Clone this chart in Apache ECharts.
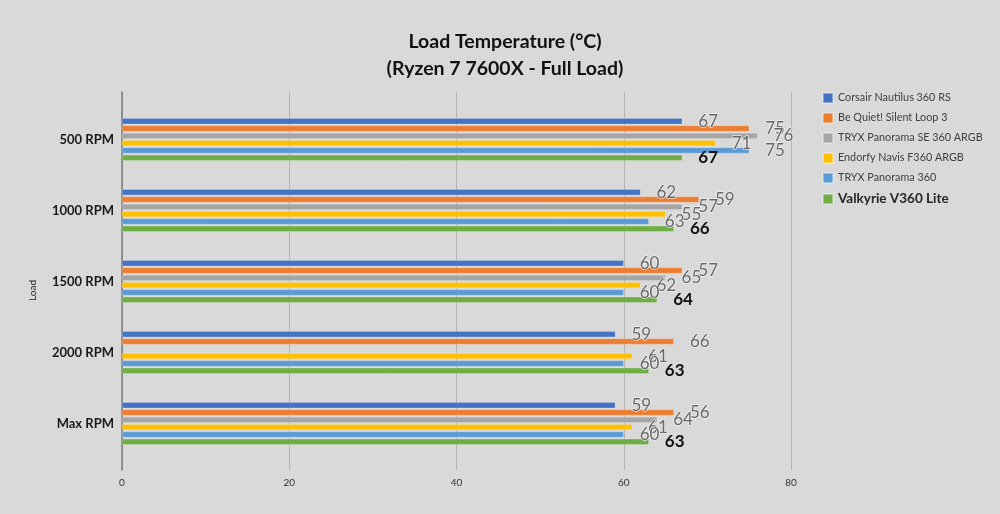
<!DOCTYPE html>
<html>
<head>
<meta charset="utf-8">
<script src="https://cdn.jsdelivr.net/npm/echarts@6/dist/echarts.min.js"></script>
<style>
  html, body { margin: 0; padding: 0; background: #d9d9d9; }
  #main { width: 1000px; height: 514px; }
</style>
</head>
<body>
<div id="main"></div>
<script>
// categories, top to bottom
var categories = ['500 RPM', '1000 RPM', '1500 RPM', '2000 RPM', 'Max RPM'];

var coolers = ['Corsair Nautilus 360 RS', 'Be Quiet! Silent Loop 3', 'TRYX Panorama SE 360 ARGB',
               'Endorfy Navis F360 ARGB', 'TRYX Panorama 360', 'Valkyrie V360 Lite'];
var colors = ['#4472c4', '#ed7d31', '#a5a5a5', '#ffc000', '#5b9bd5', '#70ad47'];

// bar lengths
var corsair   = [67, 62, 60, 59, 59];
var bequiet   = [75, 69, 67, 66, 66];
var tryxSE    = [76, 67, 65, null, 64];
var endorfy   = [71, 65, 62, 61, 61];
var tryx      = [75, 63, 60, 60, 60];
var valkyrie  = [67, 66, 64, 63, 63];

// the numbers printed next to the bars (they don't always match the bars)
var corsairLbl  = [67, 62, 60, 59, 59];
var bequietLbl  = [75, 59, 57, 66, 56];
var tryxSELbl   = [76, 57, 65, null, 64];
var endorfyLbl  = [71, 55, 62, 61, 61];
var tryxLbl     = [75, 63, 60, 60, 60];
var valkyrieLbl = [67, 66, 64, 63, 63];

var values = [corsair, bequiet, tryxSE, endorfy, tryx, valkyrie];
var labels = [corsairLbl, bequietLbl, tryxSELbl, endorfyLbl, tryxLbl, valkyrieLbl];

var font = 'Lato, "Liberation Sans", sans-serif';

var myChart = echarts.init(document.getElementById('main'));

var series = values.map(function (vals, i) {
  var last = i === values.length - 1;
  return {
    name: coolers[i],
    type: 'bar',
    xAxisIndex: 1,
    yAxisIndex: 1,
    data: vals,
    barWidth: 6,
    barGap: '22%',
    itemStyle: { color: colors[i], borderColor: 'rgba(255,255,255,0.35)', borderWidth: 0.6 },
    label: {
      show: true,
      position: 'right',
      distance: 16,
      fontFamily: font,
      fontSize: 17,
      fontWeight: last ? 'bold' : 'normal',
      color: last ? '#111' : '#666',
      textBorderColor: last ? 'transparent' : 'rgba(245,245,245,0.8)',
      textBorderWidth: last ? 0 : 1.5,
      formatter: function (p) {
        var v = labels[i][p.dataIndex];
        return v == null ? '' : String(v);
      }
    },
    silent: true
  };
});

var option = {
  backgroundColor: '#d9d9d9',
  animation: false,
  title: {
    text: 'Load Temperature (°C)\n(Ryzen 7 7600X - Full Load)',
    left: 500,
    textAlign: 'center',
    top: 23,
    textStyle: { fontFamily: font, fontSize: 19.5, fontWeight: 'bold', color: '#111', lineHeight: 27 }
  },
  legend: {
    orient: 'vertical',
    left: 817,
    top: 87,
    icon: 'rect',
    itemWidth: 10,
    itemHeight: 10,
    itemGap: 8,
    textStyle: { fontFamily: font, fontSize: 10.8, color: '#404040' },
    data: coolers.map(function (n, i) {
      if (i === coolers.length - 1) {
        return { name: n, textStyle: { fontSize: 13.5, fontWeight: 'bold', color: '#262626' } };
      }
      return { name: n };
    })
  },
  grid: [
    // frame for gridlines and tick labels
    { left: 122, right: 209, top: 92, bottom: 44 },
    // where the bars live
    { left: 122, right: 209, top: 104, bottom: 55 }
  ],
  xAxis: [
    {
      gridIndex: 0, type: 'value', min: 0, max: 80, interval: 20,
      axisLine: { show: false }, axisTick: { show: false },
      splitLine: { lineStyle: { color: '#b4b4b4', width: 1 } },
      axisLabel: { fontFamily: font, fontSize: 10, color: '#333', margin: 8 }
    },
    {
      gridIndex: 1, type: 'value', min: 0, max: 80, show: false
    }
  ],
  yAxis: [
    {
      gridIndex: 0, type: 'value', min: 0, max: 1,
      axisLine: { show: true, lineStyle: { color: '#7a7a7a', width: 1.5 } },
      axisTick: { show: false }, axisLabel: { show: false }, splitLine: { show: false }
    },
    {
      gridIndex: 1, type: 'category', data: categories, inverse: true,
      axisLine: { show: false }, axisTick: { show: false },
      axisLabel: { fontFamily: font, fontSize: 13, fontWeight: 'bold', color: '#1a1a1a', margin: 8 },
      name: 'Load', nameLocation: 'middle', nameRotate: 90, nameGap: 84,
      nameTextStyle: { fontFamily: font, fontSize: 10, color: '#222', padding: [0, 18, 0, 0] }
    }
  ],
  series: series
};

myChart.setOption(option);
</script>
</body>
</html>
